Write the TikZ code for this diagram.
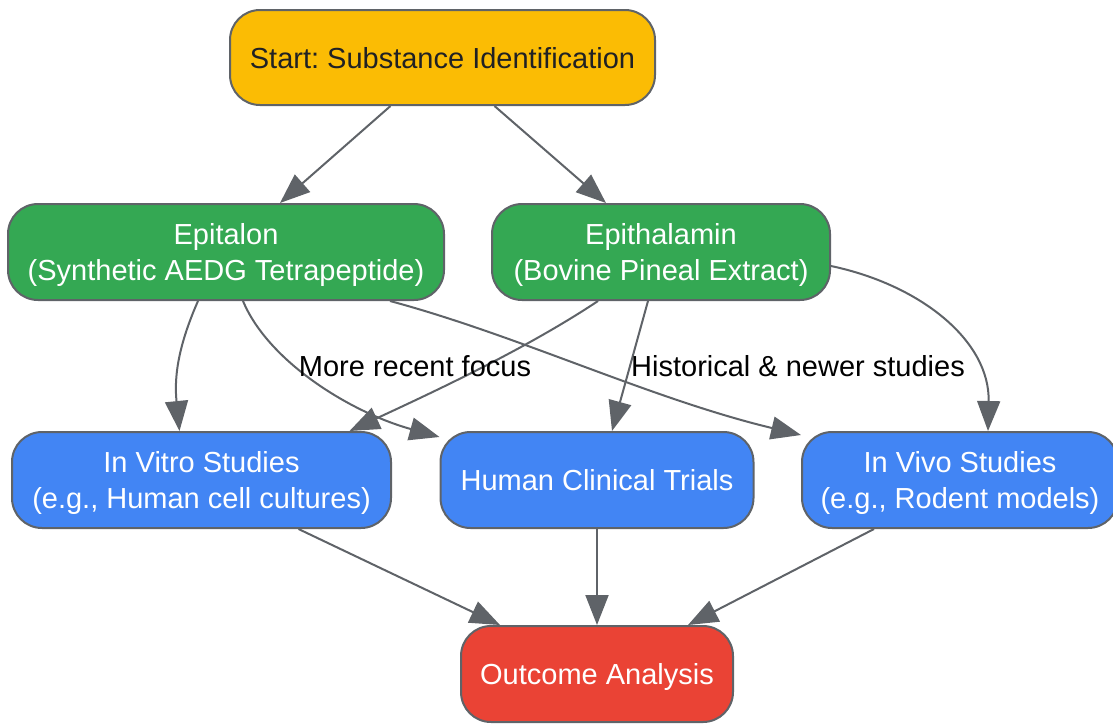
\documentclass[tikz,border=0pt]{standalone}
\usepackage{fontspec}
\setmainfont{Liberation Sans}
\usepackage{tikz}
\usetikzlibrary{shapes, arrows.meta, positioning}
\frenchspacing
\definecolor{gyellow}{HTML}{FBBC04}
\definecolor{ggreen}{HTML}{34A853}
\definecolor{gblue}{HTML}{4285F4}
\definecolor{gred}{HTML}{EA4335}
\definecolor{edgegray}{HTML}{5F6368}
\definecolor{darktext}{HTML}{202124}
\newcommand{\puntal}{\rule[-6pt]{0pt}{33pt}}
\tikzstyle{caja} = [draw=edgegray, line width=2pt, rectangle, rounded corners=30pt, align=center, minimum height=96pt, inner sep=0pt, font=\fontsize{29}{36}\selectfont]
\tikzstyle{inicio} = [caja, fill=gyellow, text=darktext]
\tikzstyle{sustancia} = [caja, fill=ggreen, text=white]
\tikzstyle{estudio} = [caja, fill=gblue, text=white]
\tikzstyle{final} = [caja, fill=gred, text=white]
\tikzstyle{flecha} = [draw=edgegray, line width=2pt, -{Triangle[length=30pt, width=23pt]}]
\tikzstyle{etiqueta} = [font=\fontsize{29}{36}\selectfont, text=black]

\begin{document}
\begin{tikzpicture}[x=1pt, y=-1pt]
	\useasboundingbox (0,0) rectangle (1113,723);
	\node [inicio, minimum width=425pt, minimum height=95pt] (start) at (442.5,57.5) {\puntal Start: Substance Identification};
	\node [sustancia, minimum width=436pt] (epitalon) at (226,252) {\puntal Epitalon\\(Synthetic AEDG Tetrapeptide)\puntal};
	\node [sustancia, minimum width=338pt] (epithalamin) at (661,252) {\puntal Epithalamin\\(Bovine Pineal Extract)\puntal};
	\node [estudio, minimum width=379pt] (invitro) at (201.5,480) {\puntal In Vitro Studies\\(e.g., Human cell cultures)\puntal};
	\node [estudio, minimum width=313pt] (clinical) at (597,480) {\puntal Human Clinical Trials};
	\node [estudio, minimum width=316pt] (invivo) at (960,480) {\puntal In Vivo Studies\\(e.g., Rodent models)\puntal};
	\node [final, minimum width=272pt] (outcome) at (597,674) {\puntal Outcome Analysis};

	\draw [flecha] ([xshift=-52pt]start.south) -- ([xshift=54pt]epitalon.north);
	\draw [flecha] ([xshift=52pt]start.south) -- ([xshift=-55pt]epithalamin.north);

	\draw [flecha] ([xshift=-28pt]epitalon.south) .. controls +(-22,50) and +(-5,-50) .. ([xshift=-22pt]invitro.north);
	\draw [flecha] ([xshift=17pt]epitalon.south) .. controls +(25,60) and +(-90,-25) .. ([yshift=-6pt]clinical.north west);
	\draw [flecha] ([xshift=164pt]epitalon.south) .. controls +(130,35) and +(-150,-36) .. ([yshift=-4pt]invivo.north west);

	\draw [flecha] ([xshift=-63pt]epithalamin.south) .. controls +(-75,50) and +(75,-35) .. ([xshift=148pt]invitro.north);
	\draw [flecha] ([xshift=-13pt]epithalamin.south) -- ([xshift=15pt]clinical.north);
	\draw [flecha] ([yshift=-14pt]epithalamin.east) .. controls +(90,19) and +(2,-90) .. ([xshift=28pt]invivo.north);

	\node [etiqueta] (recent) at (415,366) {More recent focus};
	\node [etiqueta] (historical) at (798,366) {Historical \& newer studies};

	\draw [flecha] ([xshift=97pt]invitro.south) -- ([xshift=-97pt]outcome.north);
	\draw [flecha] (clinical.south) -- (outcome.north);
	\draw [flecha] ([xshift=-86pt]invivo.south) -- ([xshift=91pt]outcome.north);
\end{tikzpicture}
\end{document}
